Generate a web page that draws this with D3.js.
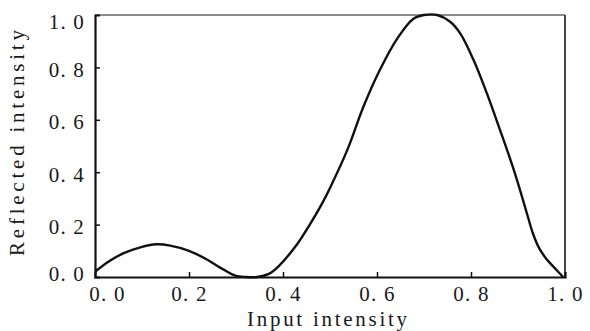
<!doctype html>
<html lang="en">
<head>
<meta charset="utf-8">
<title>Reflected intensity</title>
<script src="https://cdn.jsdelivr.net/npm/d3@7"></script>
<style>
  body { margin: 0; background: #fff; }
  svg text { font-family: "Liberation Serif", "DejaVu Serif", serif; fill: #1a1a1a; }
</style>
</head>
<body>
<svg id="chart" width="590" height="331"></svg>
<script>
// curve
var inputVals = [0.00, 0.03, 0.06, 0.10, 0.13, 0.16, 0.20, 0.24, 0.27, 0.30, 0.32, 0.345, 0.37, 0.39,
                 0.43, 0.457, 0.483, 0.50, 0.538, 0.57, 0.606, 0.643, 0.677, 0.70, 0.728, 0.755, 0.777,
                 0.805, 0.834, 0.862, 0.889, 0.908, 0.921, 0.932, 0.945, 0.96, 0.975, 0.996];
var reflVals  = [0.02, 0.06, 0.09, 0.115, 0.125, 0.12, 0.10, 0.065, 0.032, 0.004, 0.0, 0.0, 0.012, 0.04,
                 0.125, 0.20, 0.28, 0.34, 0.49, 0.645, 0.79, 0.91, 0.985, 1.0, 1.0, 0.975, 0.93,
                 0.83, 0.70, 0.56, 0.42, 0.31, 0.23, 0.165, 0.11, 0.07, 0.04, 0.0];
var xTicks = [0, 0.2, 0.4, 0.6, 0.8, 1.0];
var yTicks = [0, 0.2, 0.4, 0.6, 0.8, 1.0];

var margin = {top: 15, right: 25, bottom: 54, left: 95},
    width = 590 - margin.left - margin.right,
    height = 331 - margin.top - margin.bottom;

var fmt = function(d){ return d3.format(".1f")(d).replace(".", ". "); };

var x = d3.scaleLinear().domain([0, 1]).range([0, width]);
var y = d3.scaleLinear().domain([0, 1]).range([height, 0]);

var svg = d3.select("#chart");
var g = svg.append("g").attr("transform", "translate(" + margin.left + "," + margin.top + ")");

// frame
g.append("line").attr("x1", 0).attr("x2", width).attr("y1", 0).attr("y2", 0)
  .attr("stroke", "#666").attr("stroke-width", 1.6);
g.append("line").attr("x1", width).attr("x2", width).attr("y1", 0).attr("y2", height)
  .attr("stroke", "#333").attr("stroke-width", 1.8);

// axes, ticks pointing inside
var xAxis = g.append("g").attr("transform", "translate(0," + height + ")")
  .call(d3.axisBottom(x).tickValues(xTicks).tickSize(-5).tickPadding(8).tickFormat(fmt));
var yAxis = g.append("g")
  .call(d3.axisLeft(y).tickValues(yTicks).tickSize(-5).tickPadding(10).tickFormat(fmt));

[xAxis, yAxis].forEach(function(a){
  a.select(".domain").attr("stroke", "#111").attr("stroke-width", 2.2);
  a.selectAll(".tick line").attr("stroke", "#111").attr("stroke-width", 1.5);
  a.selectAll("text").attr("font-size", 21).attr("fill", "#222").attr("letter-spacing", 1.2);
});
xAxis.selectAll(".tick line").filter(function(d){ return d === 0 || d === 1; }).remove();
yAxis.selectAll(".tick line").filter(function(d){ return d === 0 || d === 1; }).remove();
xAxis.selectAll("text").attr("dy", "0.75em").attr("fill", "#444");
xAxis.selectAll(".tick text").filter(function(d){ return d === 0; }).attr("dx", 12);
yAxis.selectAll(".tick text").attr("dy", function(d){
  return d === 1 ? "0.62em" : d === 0 ? "0.15em" : "0.42em";
});

// curve
var pts = inputVals.map(function(v, i){ return [v, reflVals[i]]; });
g.append("path").datum(pts)
  .attr("fill", "none").attr("stroke", "#111").attr("stroke-width", 2.4)
  .attr("d", d3.line().x(function(d){ return x(d[0]); }).y(function(d){ return y(d[1]); })
    .curve(d3.curveCatmullRom.alpha(0.5)));

// axis titles
svg.append("text").attr("x", 327).attr("y", 326)
  .attr("text-anchor", "middle").attr("font-size", 21)
  .attr("textLength", 160).attr("lengthAdjust", "spacing")
  .text("Input intensity");
svg.append("text").attr("transform", "translate(24,143) rotate(-90)")
  .attr("text-anchor", "middle").attr("font-size", 21)
  .attr("textLength", 226).attr("lengthAdjust", "spacing")
  .text("Reflected intensity");
</script>
</body>
</html>
